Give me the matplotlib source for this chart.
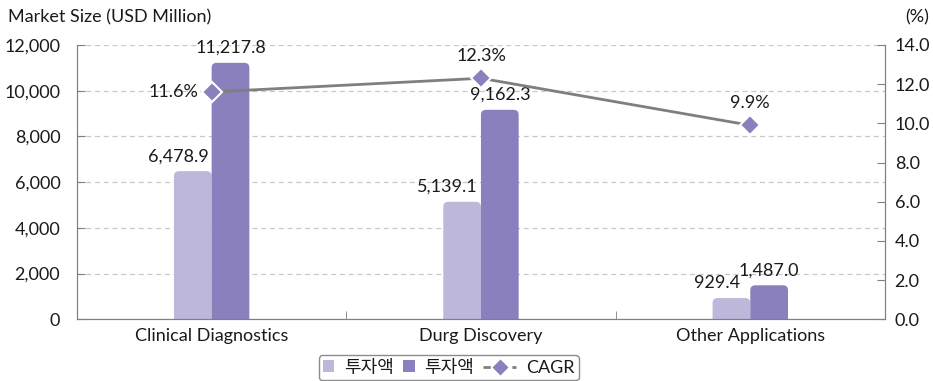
import matplotlib
matplotlib.use("Agg")
import matplotlib.pyplot as plt
import numpy as np
from matplotlib.patches import FancyBboxPatch, Patch
from matplotlib.lines import Line2D
from matplotlib.legend_handler import HandlerLine2D

plt.rcParams['font.family'] = ['Lato', 'Noto Sans CJK KR', 'DejaVu Sans']

categories = ["Clinical Diagnostics", "Durg Discovery", "Other Applications"]
invest_2023 = [6478.9, 5139.1, 929.4]
invest_2028 = [11217.8, 9162.3, 1487.0]
cagr = [11.6, 12.3, 9.9]
legend_labels = ["투자액", "투자액", "CAGR"]

light = "#BDB8DA"
dark = "#8A80BD"
line_grey = "#7F7F7F"
axis_grey = "#808080"
text_col = "#1A1A1A"
fs = 13

fig = plt.figure(figsize=(9.33, 3.81), dpi=100)
ax = fig.add_axes([0.0825, 0.162, 0.866, 0.72])
ax2 = ax.twinx()

x = np.arange(len(categories))
w = 0.14

bars1 = ax.bar(x - w / 2, invest_2023, w, color=light)
bars2 = ax.bar(x + w / 2, invest_2028, w, color=dark)

ax.set_xlim(-0.5, 2.5)
ax.set_ylim(0, 12000)

# swap plain rectangles for ones with rounded tops
fig.canvas.draw()
bbox = ax.get_window_extent()
px_x = 3.0 / bbox.width
px_y = 12000 / bbox.height
aspect = px_y / px_x
r = 5 * px_x
for bars in (bars1, bars2):
    for b in bars:
        bx, bw, bh = b.get_x(), b.get_width(), b.get_height()
        b.set_visible(False)
        p = FancyBboxPatch((bx, -2 * r * aspect), bw, bh + 2 * r * aspect,
                           boxstyle=f"round,pad=0,rounding_size={r}",
                           mutation_aspect=aspect,
                           facecolor=b.get_facecolor(), edgecolor="none",
                           clip_on=True, zorder=2)
        ax.add_patch(p)

# value labels
for i in range(len(categories)):
    ax.text(x[i] - w / 2 - 0.055, invest_2023[i] + 300, f"{invest_2023[i]:,.1f}",
            ha="center", va="bottom", fontsize=fs, color=text_col)
    ax.text(x[i] + w / 2, invest_2028[i] + 300, f"{invest_2028[i]:,.1f}",
            ha="center", va="bottom", fontsize=fs, color=text_col)

# grid
ax.set_yticks(np.arange(0, 12001, 2000))
ax.yaxis.grid(True, linestyle=(0, (4, 3)), color="#C8C8C8", linewidth=0.9)
ax.set_axisbelow(True)
ax.set_yticklabels([f"{v:,}" for v in range(0, 12001, 2000)])
ax.tick_params(axis="y", direction="in", length=6, color=axis_grey,
               labelsize=fs, labelcolor=text_col, pad=12)
ax.set_xticks(x)
ax.set_xticklabels(categories)
ax.tick_params(axis="x", length=0, labelsize=fs, labelcolor=text_col, pad=6)
ax.set_xticks([0.5, 1.5], minor=True)
ax.tick_params(axis="x", which="minor", direction="in", length=6, color=axis_grey)

ax.spines["top"].set_visible(False)
ax2.spines["top"].set_visible(False)
for s in ("left", "bottom", "right"):
    ax.spines[s].set_color(axis_grey)
    ax2.spines[s].set_color(axis_grey)

# CAGR line
ax2.set_ylim(0, 14)
ax2.set_yticks(np.arange(0, 14.1, 2))
ax2.set_yticklabels([f"{v:.1f}" for v in np.arange(0, 14.1, 2)])
ax2.tick_params(axis="y", direction="in", length=6, color=axis_grey,
                labelsize=fs, labelcolor=text_col, pad=7)
ax2.plot(x, cagr, color=line_grey, linewidth=2, zorder=3)
ax2.plot(x, cagr, linestyle="none", marker="D", markersize=10.5,
         markerfacecolor=dark, markeredgecolor="white", markeredgewidth=1.5, zorder=4)

ax2.text(x[0] - 0.05, cagr[0], f"{cagr[0]}%", ha="right", va="center",
         fontsize=fs, color=text_col)
for i in (1, 2):
    ax2.text(x[i], cagr[i] + 0.75, f"{cagr[i]}%", ha="center", va="bottom",
             fontsize=fs, color=text_col)

fig.text(0.009, 0.955, "Market Size (USD Million)", ha="left", va="center",
         fontsize=fs, color=text_col)
fig.text(0.983, 0.955, "(%)", ha="center", va="center", fontsize=fs, color=text_col)


class WideLineHandler(HandlerLine2D):
    """Line handle drawn wider than the square patch handles."""
    def legend_artist(self, legend, orig_handle, fontsize, handlebox):
        handlebox.width = handlebox.width * 2.9
        return super().legend_artist(legend, orig_handle, fontsize, handlebox)


cagr_handle = Line2D([0], [0], color=line_grey, linestyle=(0, (2.6, 2.6)), linewidth=2,
                     marker="D", markersize=9, markerfacecolor=dark,
                     markeredgecolor="white", markeredgewidth=1.0)
handles = [
    Patch(facecolor=light, edgecolor="none"),
    Patch(facecolor=dark, edgecolor="none"),
    cagr_handle,
]
leg = fig.legend(handles, legend_labels, loc="lower center", bbox_to_anchor=(0.481, -0.012),
                 ncol=3, frameon=True, fontsize=fs, handlelength=0.62, handleheight=0.62,
                 handletextpad=0.55, columnspacing=0.5, borderpad=0.25, borderaxespad=0.3,
                 fancybox=True,
                 handler_map={cagr_handle: WideLineHandler(numpoints=1)})
leg.get_frame().set_edgecolor("#707070")
leg.get_frame().set_linewidth(1.0)
for t in leg.get_texts():
    t.set_color(text_col)

fig.savefig("out.png", dpi=100)
